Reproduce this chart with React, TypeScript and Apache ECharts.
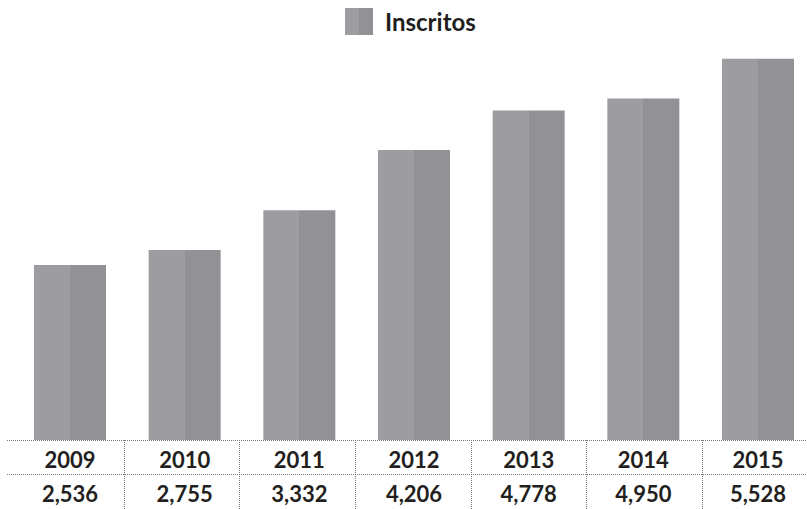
import React, { useEffect, useRef } from "react";
import * as echarts from "echarts";

const years = ["2009", "2010", "2011", "2012", "2013", "2014", "2015"];
const inscritos = [2536, 2755, 3332, 4206, 4778, 4950, 5528];
const valueLabels = ["2,536", "2,755", "3,332", "4,206", "4,778", "4,950", "5,528"];
const tableRows = ["year", "value"];
const seriesName = "Inscritos";

export default function App() {
  const ref = useRef<HTMLDivElement>(null);
  useEffect(() => {
    document.body.style.margin = "0";
    const chart = echarts.init(ref.current!, null, { renderer: "svg" });
    const L = "#9d9da1";
    const R = "#929296";
    const barColor = new echarts.graphic.LinearGradient(0, 0, 1, 0, [
      { offset: 0, color: L },
      { offset: 0.5, color: L },
      { offset: 0.5, color: R },
      { offset: 1, color: R },
    ]);
    const font = "Lato, 'Open Sans', sans-serif";
    const dotted = { type: [1, 1], color: "#7a7a7a", width: 1 };
    const separators = years.slice(1);
    chart.setOption({
      animation: false,
      backgroundColor: "#ffffff",
      legend: {
        show: true,
        left: 340,
        top: 3,
        itemWidth: 28,
        itemHeight: 27,
        icon: "rect",
        textStyle: {
          fontFamily: font,
          fontWeight: "bold",
          fontSize: 24,
          color: "#231f20",
          padding: [0, 0, 0, 7],
        },
        data: [seriesName],
      },
      grid: [
        { left: 70, right: 49, top: 40, height: 400 },
        { left: 124, right: 105, top: 440, height: 74 },
        { left: 7, right: 0, top: 440, height: 74 },
      ],
      xAxis: [
        {
          type: "category",
          gridIndex: 0,
          data: years,
          boundaryGap: false,
          axisLine: { show: false },
          axisTick: { show: false },
          axisLabel: {
            margin: 2,
            formatter: (v: string, i: number) => `{a|${v}}\n{b|${valueLabels[i]}}`,
            rich: {
              a: { fontFamily: font, fontWeight: "bold", fontSize: 22, color: "#231f20", lineHeight: 34 },
              b: { fontFamily: font, fontWeight: "bold", fontSize: 22, color: "#231f20", lineHeight: 34 },
            },
          },
        },
        {
          type: "category",
          gridIndex: 1,
          data: separators,
          boundaryGap: false,
          axisLine: { show: false },
          axisTick: { show: false },
          axisLabel: { show: false },
          splitLine: { show: true, interval: 0, lineStyle: dotted },
        },
        {
          type: "category",
          gridIndex: 2,
          data: years,
          show: false,
        },
      ],
      yAxis: [
        {
          type: "value",
          gridIndex: 0,
          min: 0,
          max: 5800,
          show: false,
          splitLine: { show: false },
        },
        {
          type: "value",
          gridIndex: 1,
          show: false,
          splitLine: { show: false },
        },
        {
          type: "category",
          gridIndex: 2,
          data: tableRows,
          axisLine: { show: false },
          axisTick: { show: false },
          axisLabel: { show: false },
          splitLine: { show: true, interval: 0, lineStyle: dotted },
        },
      ],
      series: [
        {
          name: seriesName,
          type: "bar",
          xAxisIndex: 0,
          yAxisIndex: 0,
          data: inscritos,
          barWidth: 72,
          itemStyle: { color: barColor },
        },
      ],
    });
    return () => chart.dispose();
  }, []);
  return <div ref={ref} style={{ width: 807, height: 509 }} />;
}
